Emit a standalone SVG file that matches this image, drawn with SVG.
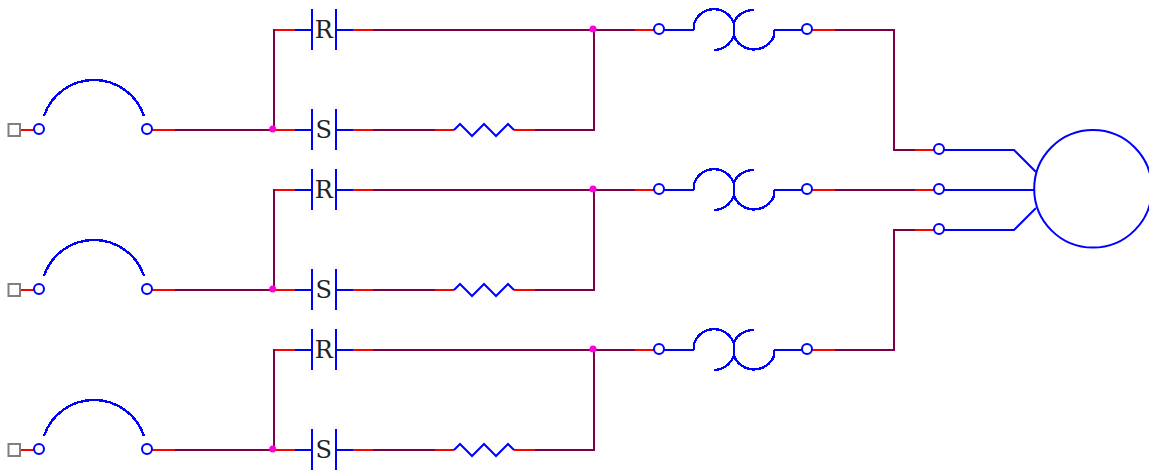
<svg xmlns="http://www.w3.org/2000/svg" width="1149" height="470" viewBox="0 0 1149 470">
<style>
.b{fill:none;stroke:#0000ff;stroke-width:2}
.c{shape-rendering:crispEdges;stroke-width:2.400}
.t{fill:#fff;stroke:#0000ff;stroke-width:2}
.r{fill:none;stroke:#ff0000;stroke-width:2}
.p{fill:none;stroke:#800048;stroke-width:2}
.d{fill:#ff00dc}
.g{fill:#fff;stroke:#808080;stroke-width:2}
text{font-family:"DejaVu Serif",serif;font-size:24px;fill:#222;text-anchor:middle}
</style>
<defs>
<path id="arc" class="b c" d="M44 116A52.700 52.700 0 0 1 144 116"/>
<g id="sw"><path class="b" d="M295 30H312M312 9V50M336 9V50M336 30H353"/></g>
<polyline id="zig" class="b" points="454,130 460,124 472,136 484,124 496,136 508,124 514,130"/>
<g id="xf"><path class="b c" d="M694 30V24A20.900 20.900 0 0 1 734 24M734 22C737 15 745 10 754 10M714 50C723 50 730 44 734 36A21.600 21.600 0 0 0 774 36V30"/><path class="b" d="M664 30H694M734 22V37M774 30H802"/></g>
<g id="branch">
<path class="r" d="M274 30H295M353 30H373M635 30H654M274 130H295M353 130H373M435 130H454M514 130H535"/>
<path class="p" d="M274 130V29M373 30H635M373 130H435M535 130H594V29"/>
</g>
</defs>
<g id="connectors">
<path class="r" d="M20 130H35M152 130H175M20 290H35M152 290H175M20 450H35M152 450H175"/>
<path class="p" d="M175 130H274M175 290H274M175 450H274"/>
<use href="#branch"/>
<use href="#branch" y="160"/>
<use href="#branch" y="320"/>
<path class="r" d="M812 30H835M915 150H934M812 190H835M915 190H934M812 350H835M915 230H934"/>
<path class="p" d="M835 30H894V150H915M835 190H915M835 350H894V230H915"/>
<path class="b" d="M944 150H1014L1036 172M944 190H1034M944 230H1014L1036 208"/>
</g>
<g id="source1"><rect class="g" x="8.500" y="124" width="11.500" height="12"/><use href="#arc"/><circle class="t" cx="39" cy="129" r="5"/><circle class="t" cx="147" cy="129" r="5"/></g>
<g id="source2"><rect class="g" x="8.500" y="284" width="11.500" height="12"/><use href="#arc" y="160"/><circle class="t" cx="39" cy="289" r="5"/><circle class="t" cx="147" cy="289" r="5"/></g>
<g id="source3"><rect class="g" x="8.500" y="444" width="11.500" height="12"/><use href="#arc" y="320"/><circle class="t" cx="39" cy="449" r="5"/><circle class="t" cx="147" cy="449" r="5"/></g>
<g id="switchR1"><use href="#sw"/><text x="323.800" y="38">R</text></g>
<g id="switchS1"><use href="#sw" y="100"/><text x="323.800" y="138">S</text></g>
<g id="switchR2"><use href="#sw" y="160"/><text x="323.800" y="198">R</text></g>
<g id="switchS2"><use href="#sw" y="260"/><text x="323.800" y="298">S</text></g>
<g id="switchR3"><use href="#sw" y="320"/><text x="323.800" y="358">R</text></g>
<g id="switchS3"><use href="#sw" y="420"/><text x="323.800" y="458">S</text></g>
<g id="resistor1"><use href="#zig"/></g>
<g id="resistor2"><use href="#zig" y="160"/></g>
<g id="resistor3"><use href="#zig" y="320"/></g>
<g id="junctions">
<circle class="d" cx="272.700" cy="129" r="3.500"/><circle class="d" cx="593" cy="29" r="3.500"/>
<circle class="d" cx="272.700" cy="289" r="3.500"/><circle class="d" cx="593" cy="189" r="3.500"/>
<circle class="d" cx="272.700" cy="449" r="3.500"/><circle class="d" cx="593" cy="349" r="3.500"/>
</g>
<g id="transformer1"><use href="#xf"/><circle class="t" cx="659" cy="29" r="5"/><circle class="t" cx="807" cy="29" r="5"/></g>
<g id="transformer2"><use href="#xf" y="160"/><circle class="t" cx="659" cy="189" r="5"/><circle class="t" cx="807" cy="189" r="5"/></g>
<g id="transformer3"><use href="#xf" y="320"/><circle class="t" cx="659" cy="349" r="5"/><circle class="t" cx="807" cy="349" r="5"/></g>
<g id="motor"><circle class="b" cx="1093" cy="188.800" r="58.800"/><circle class="t" cx="939" cy="149" r="5"/><circle class="t" cx="939" cy="189" r="5"/><circle class="t" cx="939" cy="229" r="5"/></g>
</svg>
